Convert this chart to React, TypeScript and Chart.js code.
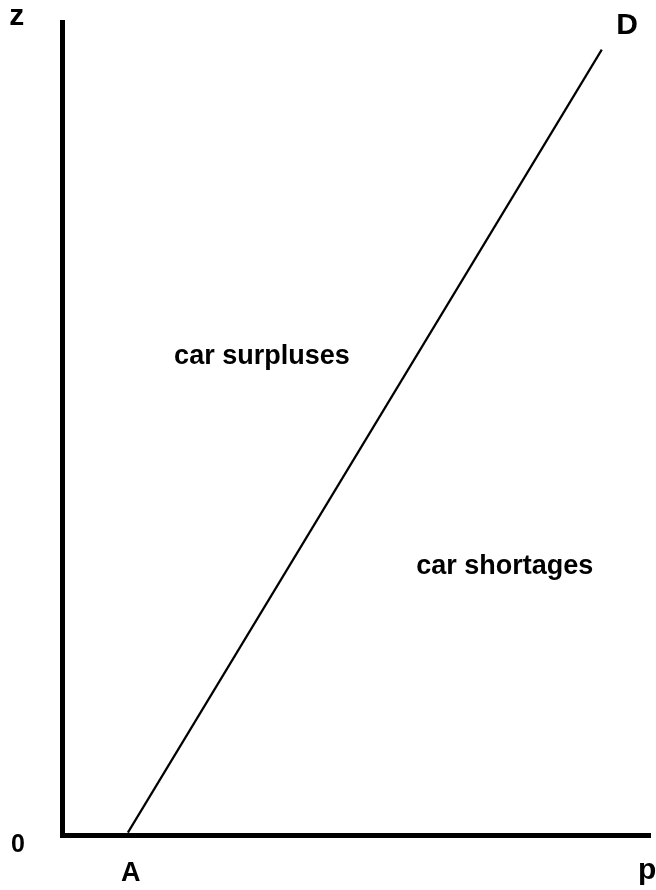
import React, { useEffect, useRef } from "react";
import { Chart, registerables } from "chart.js";

Chart.register(...registerables);

// Line A -> D (data units; x axis 0..100, y axis 0..100)
const lineX = [11.2, 91.8];
const lineY = [0.3, 96.6];

// Text labels placed in data units
const labelTexts = ["z", "D", "0", "A", "p", "car surpluses", "car shortages"];
const labelX = [-7.7, 96.1, -7.5, 11.7, 99.5, 34.0, 75.3];
const labelY = [100.6, 99.5, -1.2, -4.8, -4.4, 58.9, 33.0];
const labelSize = [30, 30, 25, 27, 30, 27, 27];

const labelPlugin = {
  id: "labels",
  afterDraw(chart: any) {
    const { ctx, scales } = chart;
    ctx.save();
    ctx.fillStyle = "#000";
    ctx.textAlign = "center";
    ctx.textBaseline = "middle";
    labelTexts.forEach((t, i) => {
      ctx.font = `bold ${labelSize[i]}px "Liberation Sans", Arial, sans-serif`;
      ctx.fillText(t, scales.x.getPixelForValue(labelX[i]), scales.y.getPixelForValue(labelY[i]));
    });
    ctx.restore();
  },
};

export default function App() {
  const ref = useRef<HTMLCanvasElement>(null);
  useEffect(() => {
    if (!ref.current) return;
    const chart = new Chart(ref.current, {
      type: "scatter",
      data: {
        datasets: [
          {
            data: lineX.map((x, i) => ({ x, y: lineY[i] })),
            showLine: true,
            borderColor: "#000",
            borderWidth: 2.2,
            pointRadius: 0,
          },
        ],
      },
      options: {
        responsive: false,
        animation: false,
        layout: { padding: { left: 62, right: 6, top: 22, bottom: 55 } },
        plugins: { legend: { display: false }, tooltip: { enabled: false } },
        scales: {
          x: {
            type: "linear",
            min: 0,
            max: 100,
            grid: { display: false, drawTicks: false },
            ticks: { display: false },
            border: { display: true, color: "#000", width: 5 },
          },
          y: {
            type: "linear",
            min: 0,
            max: 100,
            grid: { display: false, drawTicks: false },
            ticks: { display: false },
            border: { display: true, color: "#000", width: 5 },
          },
        },
      },
      plugins: [labelPlugin],
    });
    return () => chart.destroy();
  }, []);
  return (
    <div style={{ position: "fixed", left: 0, top: 0, width: 656, height: 890, background: "#fff" }}>
      <canvas ref={ref} width={656} height={890} style={{ display: "block" }} />
    </div>
  );
}
